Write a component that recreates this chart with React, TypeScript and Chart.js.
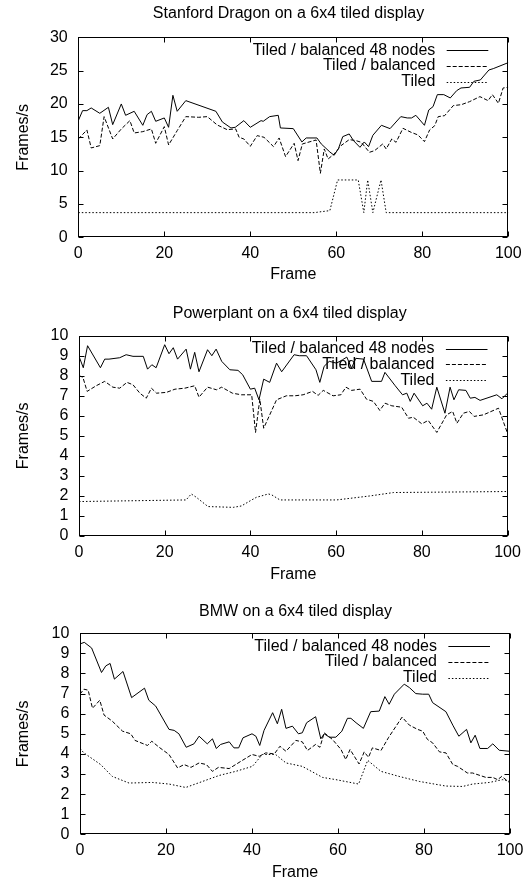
import React, { useEffect, useRef } from "react";
import { Chart, registerables } from "chart.js";
Chart.register(...registerables);

const FONT = "'Liberation Sans', Arial, Helvetica, sans-serif";
const FS = 16;

const seriesLabels = ["Tiled / balanced 48 nodes", "Tiled / balanced", "Tiled"];
const xAxisLabel = "Frame";
const yAxisLabel = "Frames/s";
const titles = [
  "Stanford Dragon on a 6x4 tiled display",
  "Powerplant on a 6x4 tiled display",
  "BMW on a 6x4 tiled display",
];

// ---- Chart 1: Stanford Dragon ----
const dragonFastX = [0,1,2,3,5,7,8,10,11,13,15,16,17,18,20,21,22,23,25,32,33.5,35.5,36.5,38.5,40,42.5,43,44.5,46.5,47,50,52,53,55.5,56.5,58.5,59.5,60.5,61.5,63,64,65.5,66.5,67.5,68.5,70.5,72.5,75,76.5,77.5,78.5,80.5,81.5,82.5,83.5,85,86.5,88,89,91,92,93.5,95.5,96.5,100];
const dragonFastY = [17.5,19,19,19.4,18.6,19.5,16.9,20,18.3,18.9,16.8,18.4,18.9,17.4,17.9,16.5,21.3,18.9,20.5,18.9,17.3,16.4,16.5,17.5,16.5,17.5,17.4,18.1,18.3,16.4,16.3,14.3,14.9,14.9,14,12.8,12.3,13.3,15.1,15.5,14.5,13.5,14.3,13.6,15.3,16.8,16.3,18.1,17.9,17.9,18.3,16.8,19.1,19.6,21.4,21.4,20.9,22,22.4,22.5,23.4,23.6,25.1,25.3,26.2];
const dragonBalX = [0,2,3,5,6,8,10,12,13,15,17,18,20,21,23,25,28,30,32.3,34.6,36.6,37.4,38.5,40,41.6,43.2,45.4,46.7,48.2,50.2,51.1,52.1,55.3,56.3,57.2,58.1,59.5,61.1,63,64.6,65.8,67.7,68.9,70.8,71.6,72.9,73.9,75.5,77.4,79,80.5,81.7,82.9,83.7,85.2,87.2,89.1,91,93.4,95.3,96.3,97.7,98.8,100];
const dragonBalY = [14.75,16.1,13.4,13.75,18.1,14.75,16.25,17.5,15.65,15.85,16.25,14.1,16.6,13.85,16,18.1,18,18.1,16.85,16.15,16.25,15,14.75,13.65,15.25,15,13.6,14.9,12.1,14.1,11.5,14,14.6,9.6,13.25,11.75,12.5,13.75,14.65,14.5,14.25,12.75,13,14,13.25,14.75,14.25,16.35,15.75,15.35,14.35,16.1,16.75,18.1,18.25,19.75,19.9,20.35,21.1,20.5,21.4,20.1,22.4,22.5];
const dragonTiledX = [0,55,56,58.5,60.3,65.1,66.4,67.3,68.5,70.4,71.6,100];
const dragonTiledY = [3.7,3.7,3.8,4.0,8.6,8.6,3.7,8.6,3.7,8.6,3.7,3.7];

// ---- Chart 2: Powerplant ----
const plantFastX = [0,1,2,5,6,7,9.5,11,12.6,15,16,17,18,20,21,22,23,25,26,27,28,30,31,32,33.3,35.2,37.1,38.2,40,41,42,43.1,44.5,46.1,47.3,50.2,51.4,53.1,55.3,56.2,57.2,58.4,60.1,61.5,62.5,63.6,64.6,66.4,68.3,70.6,71.4,73.8,75.5,76.5,77.3,78.2,80.2,81.2,82.3,83.5,85.4,86.6,87.5,88.6,90.3,91.3,92.4,93.6,97.5,98.7,100];
const plantFastY = [8.97,8.4,9.5,8.4,8.83,8.83,8.9,9.05,8.97,8.97,8.33,8.55,8.4,9.55,9.1,9.4,8.83,9.33,8.33,9.17,8.2,9.3,9,9.33,8.72,8.3,8.27,8.05,7.33,7.38,6.8,7.83,7.67,8.63,8.2,9.05,9,9,8.3,7.67,8.47,8.72,8.63,8.8,8.93,8.38,8.87,8.83,7.72,7.72,8.17,7.5,7.05,7.13,6.72,7.13,6.5,6.63,6.33,7.43,6.13,7.43,6.8,7.3,7.27,6.88,6.92,6.77,7.05,6.85,7.13];
const plantBalX = [0,0.9,1.9,4,6,7.9,9.5,11.2,12.6,14.2,15.7,16.9,18.1,20.4,22.4,24.7,27,28,30,32.1,33.3,35.8,37.9,40.3,41.2,42.2,43.1,46.1,48.4,50.4,52.3,54.5,55.8,57,59.3,61.1,62.3,63.6,65.6,67.1,68.7,70.2,71.4,73,75.3,76.9,78,80,81.5,83.5,85.8,87.2,88.2,89.7,91.1,92.2,94.4,97.9,100];
const plantBalY = [8,7.93,7.22,7.5,7.72,7.43,7.38,7.67,7.55,7.13,6.88,7.38,7.13,7.17,7.33,7.38,7.5,6.93,7.43,7.3,7.43,7.13,7.05,7.05,5.17,6.83,5.38,6.8,7,7,7.05,7.22,7.02,7.27,7,7.05,7.43,7.27,7.33,6.83,6.72,6.27,6.63,6.5,6.43,5.88,5.93,5.6,5.77,5.17,6.05,6.22,5.63,6.13,6.22,5.97,6.05,6.38,5.13];
const plantTiledX = [0,25,26.2,27.4,30.1,36,37.9,40.3,41.4,44.2,45,46.9,60.1,67.9,73.4,100];
const plantTiledY = [1.72,1.8,2.1,1.93,1.47,1.43,1.5,1.8,1.93,2.1,2.05,1.8,1.8,2,2.17,2.22];

// ---- Chart 3: BMW ----
const bmwFastX = [0,1,2.7,5,6,7,8,10,12,15,16,17.6,20.7,21.9,23,24.7,26.5,27.7,29.6,30.8,31.7,32.7,34.7,35.8,36.9,37.9,40,40.9,41.8,42.8,44.8,45.9,46.9,47.9,49.4,50.8,51.7,52.7,54.8,56,56.8,58,59.5,60.9,62.2,63,64.2,65.9,67.6,69.6,70.9,71.9,73.1,75.4,76.6,78.1,79.7,81.1,82,85.1,86.7,88.1,89.9,90.9,91.9,93,94.8,96,97.5,100];
const bmwFastY = [9.47,9.55,9.27,8.05,8.38,8.5,7.72,8.1,6.8,7.27,6.67,6.38,5.22,5.17,5,4.33,4.5,4.88,4.5,4.75,4.27,4.47,4.6,4.3,4.3,4.8,5,4.88,4.42,5.17,6.05,5.5,6.22,5.27,5.38,5,5.05,5.55,5.85,4.75,5,4.83,4.83,5.13,5.77,5.77,5.55,5.27,6.1,6.13,6.85,6.47,6.97,7.47,7.3,7,6.97,6.97,6.55,6.1,5.43,4.88,5.22,4.55,4.93,4.27,4.27,4.5,4.18,4.13];
const bmwBalX = [0,0.9,1.9,2.9,4.6,5.6,7.5,9.9,11.8,12.8,15.7,16.7,18.4,20.7,22.7,24.2,25.8,27.7,29.4,30.8,32.2,34.7,37.4,40,41.7,43.2,45.2,46.5,47.9,50.2,51.7,52.9,54.8,55.8,56.8,58.7,60.7,61.8,62.8,64.9,66.1,67.1,68,70,71.8,74.9,76.6,78.5,79.7,80.8,82,83.6,85.1,86.7,87.8,90.1,91.3,94.4,96,97.1,98.1,100];
const bmwBalY = [6.97,7.22,7.17,6.27,6.67,5.93,5.63,5.13,5,4.67,4.42,4.63,4.33,3.97,3.3,3.47,3.33,3.55,3.47,3.13,3.33,3.27,3.63,3.97,3.88,4.05,4,4.38,4.13,4.67,4.6,4.17,4.47,4.33,5.05,4.72,4.22,3.72,4.22,3.5,4.1,3.83,4.3,4.17,4.83,5.83,5.43,5.22,5.13,4.72,4.55,4.1,4.05,3.47,3.38,3.05,3.05,2.83,2.83,2.72,2.88,2.55];
const bmwTiledX = [0,0.9,4.8,7.5,11.4,16.8,20.7,24.6,28.5,32.4,36.2,40.1,42.4,45.5,47.9,51.7,56.4,59.5,64.8,66.9,70,74.2,78.9,85.1,89,91.3,95.2,98.3,100];
const bmwTiledY = [4.27,4.05,3.47,2.88,2.55,2.58,2.5,2.33,2.63,2.93,3.13,3.38,3.97,3.97,3.55,3.38,2.83,2.72,2.5,3.68,3.13,2.88,2.63,2.4,2.38,2.5,2.58,2.72,2.63];

const dragonYTicks = { max: 30, step: 5 };
const smallYTicks = { max: 10, step: 1 };

const dashes = [[], [4, 2], [1.5, 2]];

type Spec = {
  top: number; H: number; left: number; right: number; plotTop: number; plotBottom: number;
  titleX: number; titleY: number; frameY: number; title: string; yMax: number; yStep: number;
  series: { x: number[]; y: number[] }[];
};

const W = 530;
const LH = FS * 1.2;

const framePlugin = {
  id: "gnuFrame",
  afterDatasetsDraw(chart: any) {
    const { ctx, chartArea: a, scales } = chart;
    const xs = scales.x, ys = scales.y;
    ctx.save();
    ctx.setLineDash([]);
    ctx.strokeStyle = "#000";
    ctx.lineWidth = 1;
    const L = Math.round(a.left) + 0.5, R = Math.round(a.right) - 0.5;
    const T = Math.round(a.top) + 0.5, B = Math.round(a.bottom) - 0.5;
    ctx.strokeRect(L, T, R - L, B - T);
    const tl = 5;
    ctx.beginPath();
    xs.ticks.forEach((t: any) => {
      const px = Math.round(xs.getPixelForValue(t.value)) + 0.5;
      ctx.moveTo(px, B); ctx.lineTo(px, B - tl);
      ctx.moveTo(px, T); ctx.lineTo(px, T + tl);
    });
    ys.ticks.forEach((t: any) => {
      const py = Math.round(ys.getPixelForValue(t.value)) + 0.5;
      ctx.moveTo(L, py); ctx.lineTo(L + tl, py);
      ctx.moveTo(R, py); ctx.lineTo(R - tl, py);
    });
    ctx.stroke();
    ctx.restore();
  },
};

const keyPlugin = {
  id: "gnuKey",
  afterDatasetsDraw(chart: any, _args: any, opts: any) {
    const { ctx, chartArea: a } = chart;
    ctx.save();
    ctx.font = `${FS}px ${FONT}`;
    ctx.fillStyle = "#000";
    ctx.textBaseline = "middle";
    // title
    ctx.textAlign = "center";
    ctx.fillText(opts.title, opts.titleX, opts.titleY);
    // key
    ctx.textAlign = "right";
    chart.data.datasets.forEach((ds: any, i: number) => {
      const y = a.top + 13 + i * 15.7;
      ctx.fillText(ds.label, a.right - 73, y);
      ctx.beginPath();
      ctx.setLineDash(ds.borderDash || []);
      ctx.strokeStyle = "#000";
      ctx.lineWidth = 1;
      ctx.moveTo(a.right - 61.6, Math.round(y) + 0.5);
      ctx.lineTo(a.right - 20, Math.round(y) + 0.5);
      ctx.stroke();
    });
    ctx.restore();
  },
};

function makeConfig(s: Spec): any {
  const font = { family: FONT, size: FS, weight: "normal" as const, lineHeight: 1.2 };
  return {
    type: "line",
    data: {
      datasets: s.series.map((ser, i) => ({
        label: seriesLabels[i],
        data: ser.x.map((x, j) => ({ x, y: ser.y[j] })),
        borderColor: "#000",
        borderWidth: 1,
        borderDash: dashes[i],
        pointRadius: 0,
        fill: false,
        tension: 0,
      })),
    },
    options: {
      animation: false,
      responsive: false,
      maintainAspectRatio: false,
      layout: { padding: { left: 0, right: W - s.right, top: s.plotTop, bottom: 0 } },
      plugins: {
        legend: { display: false },
        tooltip: { enabled: false },
        title: { display: false },
        gnuKey: { title: s.title, titleX: s.titleX, titleY: s.titleY },
      },
      scales: {
        x: {
          type: "linear",
          min: 0,
          max: 100,
          ticks: { stepSize: 20, color: "#000", font, padding: 6.5, maxRotation: 0, autoSkip: false },
          grid: { display: false, drawTicks: false },
          border: { display: false },
          title: { display: true, text: xAxisLabel, color: "#000", font, padding: { top: 0, bottom: s.H - s.frameY - LH / 2 } },
          afterFit: (sc: any) => { sc.height = s.H - s.plotBottom; },
        },
        y: {
          type: "linear",
          min: 0,
          max: s.yMax,
          ticks: { stepSize: s.yStep, color: "#000", font, padding: 10.6, autoSkip: false },
          grid: { display: false, drawTicks: false },
          border: { display: false },
          title: { display: true, text: yAxisLabel, color: "#000", font, padding: { top: 24 - LH / 2, bottom: 0 } },
          afterFit: (sc: any) => { sc.width = s.left; },
        },
      },
    },
    plugins: [framePlugin, keyPlugin],
  };
}

function GnuChart({ spec }: { spec: Spec }) {
  const ref = useRef<HTMLCanvasElement>(null);
  useEffect(() => {
    if (!ref.current) return;
    const c = new Chart(ref.current, makeConfig(spec));
    return () => c.destroy();
  }, [spec]);
  return (
    <canvas
      ref={ref}
      width={W}
      height={spec.H}
      style={{ position: "absolute", left: 0, top: spec.top, width: W, height: spec.H }}
    />
  );
}

const specs: Spec[] = [
  {
    top: 0, H: 298, left: 78.3, right: 508.3, plotTop: 37.3, plotBottom: 237.3, titleX: 288.5, titleY: 13.7, frameY: 275,
    title: titles[0], yMax: dragonYTicks.max, yStep: dragonYTicks.step,
    series: [ { x: dragonFastX, y: dragonFastY }, { x: dragonBalX, y: dragonBalY }, { x: dragonTiledX, y: dragonTiledY } ],
  },
  {
    top: 298, H: 298, left: 79, right: 507.5, plotTop: 37.7, plotBottom: 238, titleX: 289.7, titleY: 15.5, frameY: 277,
    title: titles[1], yMax: smallYTicks.max, yStep: smallYTicks.step,
    series: [ { x: plantFastX, y: plantFastY }, { x: plantBalX, y: plantBalY }, { x: plantTiledX, y: plantTiledY } ],
  },
  {
    top: 596, H: 288, left: 80, right: 510, plotTop: 37.3, plotBottom: 238.3, titleX: 295.5, titleY: 15.7, frameY: 277,
    title: titles[2], yMax: smallYTicks.max, yStep: smallYTicks.step,
    series: [ { x: bmwFastX, y: bmwFastY }, { x: bmwBalX, y: bmwBalY }, { x: bmwTiledX, y: bmwTiledY } ],
  },
];

export default function App() {
  return (
    <div style={{ position: "absolute", left: 0, top: 0, width: W, height: 884, background: "#fff", overflow: "hidden" }}>
      {specs.map((s, i) => (
        <GnuChart key={i} spec={s} />
      ))}
    </div>
  );
}
